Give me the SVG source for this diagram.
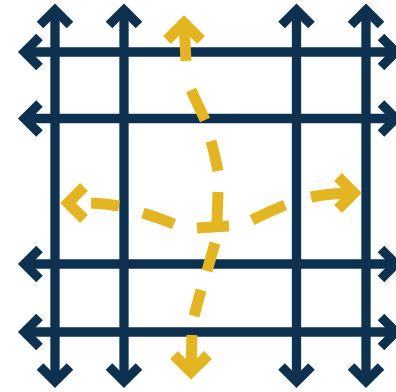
<svg xmlns="http://www.w3.org/2000/svg" width="396" height="392" viewBox="0 0 396 392">
<style>
.n{fill:none;stroke:#0E314F;stroke-width:9.3;stroke-linejoin:miter;stroke-miterlimit:10;stroke-linecap:butt}
.y{fill:none;stroke:#E3B523;stroke-width:11;stroke-linejoin:miter;stroke-miterlimit:10;stroke-linecap:butt}
</style>
<rect width="396" height="392" fill="#ffffff"/>
<g id="grid-vertical">
<path class="n" d="M55 10V381.5M124 10V381.5M296.5 10V381.5M366 10V381.5"/>
<path class="n" d="M40 25L55 10L70 25M109 25L124 10L139 25M281.5 25L296.5 10L311.5 25M351 25L366 10L381 25"/>
<path class="n" d="M40 366.5L55 381.5L70 366.5M109 366.5L124 381.5L139 366.5M281.5 366.5L296.5 381.5L311.5 366.5M351 366.5L366 381.5L381 366.5"/>
</g>
<g id="grid-horizontal">
<path class="n" d="M24.5 52H396M24.5 118.5H396M24.5 264H396M24.5 332H396"/>
<path class="n" d="M39.5 37L24.5 52L39.5 67M39.5 103.5L24.5 118.5L39.5 133.5M39.5 249L24.5 264L39.5 279M39.5 317L24.5 332L39.5 347"/>
<path class="n" d="M381 37L396 52L381 67M381 103.5L396 118.5L381 133.5M381 249L396 264L381 279M381 317L396 332L381 347"/>
</g>
<g id="connectors">
<path id="flow-horizontal" class="y" d="M91 203Q105 203.5 119 206M143 213Q159 218 174 224M197 228L229 226M252 220Q268 212 285 205M311 197Q332 193 354 193"/>
<path class="y" d="M84 187L68 203L84 219"/>
<path class="y" d="M338 177L354 193L338 209"/>
<path id="flow-vertical" class="y" d="M184 23L186 61M191 90L205 120M211 141Q215 155 218 171M218 192L217 222M215 243L207 271M201 290L194 316M192 335L191 372"/>
<path class="y" d="M167 40L184 23L201 40"/>
<path class="y" d="M174 355L191 372L208 355"/>
</g>
</svg>
